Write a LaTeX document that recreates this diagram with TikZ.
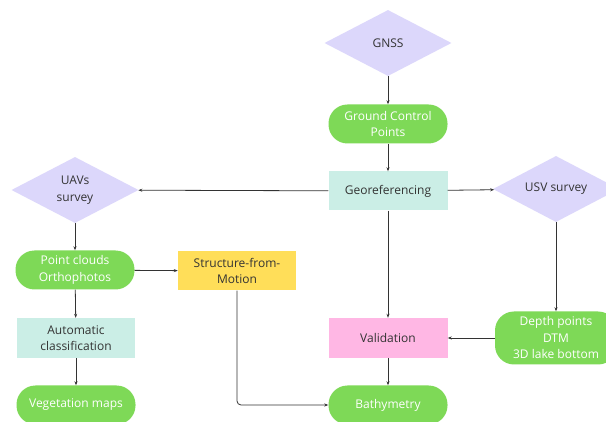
\documentclass[tikz,border=0pt]{standalone}
\usepackage{fontspec}
\setmainfont{Open Sans}
\usepackage{tikz}
\usetikzlibrary{shapes.geometric,arrows.meta}
\definecolor{lavend}{HTML}{DCD7FB}
\definecolor{leaf}{HTML}{7ED957}
\definecolor{mint}{HTML}{CBEEE6}
\definecolor{sun}{HTML}{FFDE59}
\definecolor{rose}{HTML}{FFB7E4}
\definecolor{ink}{HTML}{333333}
\tikzset{
  every node/.style={font=\fontsize{12}{16.5}\selectfont, align=center},
  survey/.style={diamond, fill=lavend, aspect=1.9, inner sep=0pt,
    minimum width=127pt, minimum height=66pt, text=ink},
  product/.style={rectangle, rounded corners=19pt, fill=leaf, text=white,
    minimum width=119pt, minimum height=39pt},
  task/.style={rectangle, minimum width=119pt, minimum height=39pt, text=ink},
  link/.style={draw=ink, line width=0.8pt, -{Stealth[length=4pt,width=3pt]}}
}
\begin{document}
\begin{tikzpicture}[x=1pt,y=-1pt]

\fill[white] (0,0) rectangle (606,422);
\useasboundingbox (0,0) rectangle (606,422);

% sources and surveys
\node[survey] (gnss) at (388,43) {GNSS};
\node[survey] (uav) at (75,190) {UAVs\\survey};
\node[survey, minimum width=126pt] (usv) at (556,189) {USV survey};

% products
\node[product] (gcp) at (388,124) {Ground Control\\Points};
\node[product] (pc) at (75,270) {Point clouds\\Orthophotos};
\node[product] (veg) at (76,405) {Vegetation maps};
\node[product] (bath) at (388,405) {Bathymetry};
\node[product, minimum width=122pt, minimum height=53pt] (depth) at (556,338) {Depth points\\DTM\\3D lake bottom};

% processing steps
\node[task, fill=mint] (geo) at (388,191) {Georeferencing};
\node[task, fill=sun, minimum width=118pt] (sfm) at (237,271) {Structure-from-\\Motion};
\node[task, fill=mint, minimum width=118pt, minimum height=40pt] (auto) at (76,338) {Automatic\\classification};
\node[task, fill=rose, minimum height=40pt] (val) at (388,338) {Validation};

\draw[link] (gnss) -- (gcp);
\draw[link] (gcp) -- (geo);
\draw[link] (geo) -- (uav);
\draw[link] (geo) -- (usv);
\draw[link] (geo) -- (val);
\draw[link] (uav) -- (pc);
\draw[link] (pc) -- (sfm);
\draw[link] (pc) -- (auto);
\draw[link] (auto) -- (veg);
\draw[link] (usv) -- (depth);
\draw[link] (depth) -- (val);
\draw[link] (val) -- (bath);
\draw[link, rounded corners=4pt] (sfm.south) |- (bath.west);

\end{tikzpicture}
\end{document}
